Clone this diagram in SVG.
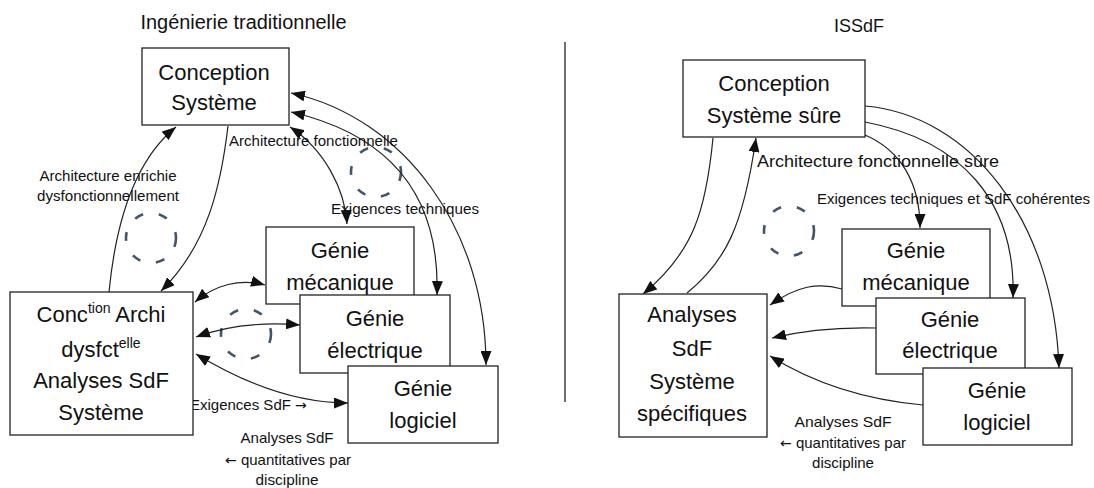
<svg xmlns="http://www.w3.org/2000/svg" width="1094" height="488" viewBox="0 0 1094 488">
  <style>
    text { font-family: "Liberation Sans", Arial, sans-serif; fill: #111; }
    .title { font-size: 20px; text-anchor: middle; }
    .box rect { fill: #fff; stroke: #222; stroke-width: 1.3; }
    .box text { font-size: 22px; text-anchor: middle; }
    .sup { font-size: 14px; }
    .lbl { font-size: 15px; }
    .mid { text-anchor: middle; }
    .arw { font-family: "DejaVu Sans", sans-serif; font-size: 14px; }
    .conn path { fill: none; stroke: #222; stroke-width: 1.2; }
    .loop { fill: none; stroke: #44546A; stroke-width: 2.6; stroke-dasharray: 9 16; }
  </style>
  <defs>
    <marker id="arrow" viewBox="0 0 14 11" refX="14" refY="5.5" markerWidth="14" markerHeight="11" markerUnits="userSpaceOnUse" orient="auto-start-reverse">
      <path d="M0,0 L14,5.5 L0,11 z" fill="#111"/>
    </marker>
  </defs>

  <rect width="1094" height="488" fill="#fff"/>

  <!-- headings and separator -->
  <text class="title" x="243.5" y="29" textLength="206" lengthAdjust="spacingAndGlyphs">Ingénierie traditionnelle</text>
  <text class="title" x="859" y="32" style="font-size:18px">ISSdF</text>
  <line x1="565" y1="42" x2="565" y2="402" stroke="#222" stroke-width="1.3"/>

  <!-- iteration loops -->
  <circle class="loop" cx="376" cy="172" r="25"/>
  <circle class="loop" cx="151" cy="238" r="25"/>
  <circle class="loop" cx="246" cy="334" r="25"/>
  <circle class="loop" cx="789" cy="231" r="25"/>

  <!-- connectors -->
  <g id="connectors" class="conn">
    <!-- traditional engineering -->
    <path d="M109,292 C116,220 135,160 176,127" marker-end="url(#arrow)"/>
    <path d="M228,126 C221,185 208,245 161,291" marker-end="url(#arrow)"/>
    <path d="M290,127 C325,150 345,190 347,224" marker-start="url(#arrow)" marker-end="url(#arrow)"/>
    <path d="M291,112 C390,135 440,195 437,295" marker-start="url(#arrow)" marker-end="url(#arrow)"/>
    <path d="M291,93 C405,118 486,230 486,365" marker-start="url(#arrow)" marker-end="url(#arrow)"/>
    <path d="M195,302 C215,285 240,278 265,285" marker-start="url(#arrow)" marker-end="url(#arrow)"/>
    <path d="M196,337 C226,326 263,322 300,325" marker-start="url(#arrow)" marker-end="url(#arrow)"/>
    <path d="M196,354 C242,382 295,403 348,403" marker-start="url(#arrow)" marker-end="url(#arrow)"/>

    <!-- ISSdF -->
    <path d="M713,138 C706,210 694,252 643,294" marker-end="url(#arrow)"/>
    <path d="M687,293 C725,262 743,228 756,138" marker-end="url(#arrow)"/>
    <path d="M865,135 C900,150 920,182 920,228" marker-end="url(#arrow)"/>
    <path d="M865,122 C960,140 1016,200 1013,298" marker-end="url(#arrow)"/>
    <path d="M865,106 C970,115 1054,220 1059,368" marker-end="url(#arrow)"/>
    <path d="M842,289 C818,282 797,286 770,305" marker-end="url(#arrow)"/>
    <path d="M876,328 C835,327 805,330 772,338" marker-end="url(#arrow)"/>
    <path d="M923,405 C868,400 818,386 770,356" marker-end="url(#arrow)"/>
  </g>

  <!-- connector labels -->
  <text class="lbl" x="229" y="146" textLength="169" lengthAdjust="spacingAndGlyphs">Architecture fonctionnelle</text>
  <text class="lbl mid" x="108" y="181" textLength="137" lengthAdjust="spacingAndGlyphs">Architecture enrichie</text>
  <text class="lbl mid" x="108" y="201" textLength="142" lengthAdjust="spacingAndGlyphs">dysfonctionnellement</text>
  <text class="lbl" x="331" y="214" textLength="148" lengthAdjust="spacingAndGlyphs">Exigences techniques</text>
  <text class="lbl" x="190" y="410">Exigences SdF <tspan class="arw">→</tspan></text>
  <text class="lbl mid" x="287" y="443" textLength="93" lengthAdjust="spacingAndGlyphs">Analyses SdF</text>
  <text class="lbl mid" x="288" y="465"><tspan class="arw">←</tspan> quantitatives par</text>
  <text class="lbl mid" x="287" y="485" textLength="63" lengthAdjust="spacingAndGlyphs">discipline</text>

  <text class="lbl" x="757" y="167" style="font-size:16px" textLength="242" lengthAdjust="spacingAndGlyphs">Architecture fonctionnelle sûre</text>
  <text class="lbl" x="817" y="204" textLength="273" lengthAdjust="spacingAndGlyphs">Exigences techniques et SdF cohérentes</text>
  <text class="lbl mid" x="843" y="427" textLength="97" lengthAdjust="spacingAndGlyphs">Analyses SdF</text>
  <text class="lbl mid" x="843" y="448"><tspan class="arw">←</tspan> quantitatives par</text>
  <text class="lbl mid" x="843" y="468" textLength="62" lengthAdjust="spacingAndGlyphs">discipline</text>

  <!-- traditional engineering nodes -->
  <g id="conception" class="box">
    <rect x="142" y="48" width="147" height="77"/>
    <text x="214" y="80">Conception</text>
    <text x="214" y="110">Système</text>
  </g>
  <g id="meca" class="box">
    <rect x="266" y="227" width="148" height="77"/>
    <text x="340" y="258">Génie</text>
    <text x="340" y="290">mécanique</text>
  </g>
  <g id="elec" class="box">
    <rect x="300" y="295" width="150" height="78"/>
    <text x="375" y="326">Génie</text>
    <text x="375" y="358">électrique</text>
  </g>
  <g id="logiciel" class="box">
    <rect x="348" y="366" width="150" height="77"/>
    <text x="423" y="396">Génie</text>
    <text x="423" y="428">logiciel</text>
  </g>
  <g id="archi" class="box">
    <rect x="10" y="292" width="183" height="143"/>
    <text x="101" y="322">Conc<tspan class="sup" dy="-9">tion</tspan><tspan dy="9"> Archi</tspan></text>
    <text x="101" y="357">dysfct<tspan class="sup" dy="-9">elle</tspan></text>
    <text x="101" y="388">Analyses SdF</text>
    <text x="101" y="420">Système</text>
  </g>

  <!-- ISSdF nodes -->
  <g id="conceptionSure" class="box">
    <rect x="683" y="60" width="182" height="77"/>
    <text x="774" y="91">Conception</text>
    <text x="774" y="123">Système sûre</text>
  </g>
  <g id="mecaR" class="box">
    <rect x="842" y="229" width="148" height="77"/>
    <text x="916" y="258">Génie</text>
    <text x="916" y="290">mécanique</text>
  </g>
  <g id="elecR" class="box">
    <rect x="876" y="298" width="149" height="76"/>
    <text x="950" y="327">Génie</text>
    <text x="950" y="358">électrique</text>
  </g>
  <g id="logicielR" class="box">
    <rect x="923" y="368" width="149" height="77"/>
    <text x="997" y="398">Génie</text>
    <text x="997" y="430">logiciel</text>
  </g>
  <g id="analyses" class="box">
    <rect x="619" y="294" width="148" height="143"/>
    <text x="692" y="322">Analyses</text>
    <text x="692" y="356">SdF</text>
    <text x="692" y="389">Système</text>
    <text x="692" y="421">spécifiques</text>
  </g>
</svg>
